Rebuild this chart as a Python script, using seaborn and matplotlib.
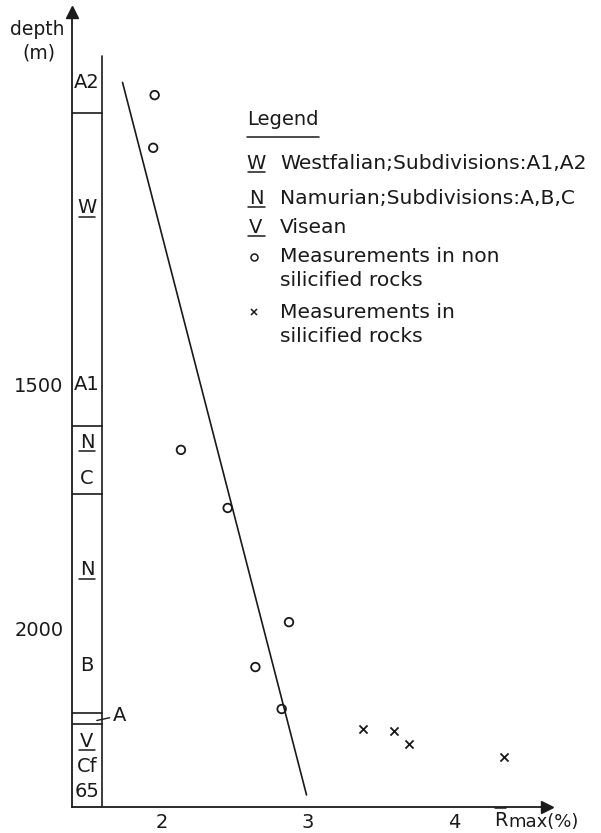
import matplotlib
matplotlib.use('Agg')
import matplotlib.pyplot as plt
import seaborn as sns

sns.set_theme(style='white')
plt.rcParams['font.family'] = ['DejaVu Sans']

# ---------------- data ----------------
# vitrinite reflectance (%) vs depth (m)
non_sil_r = [1.95, 1.94, 2.13, 2.45, 2.87, 2.64, 2.82]
non_sil_depth = [906, 1014, 1633, 1752, 1986, 2078, 2164]
sil_r = [3.38, 3.59, 3.69, 4.34]
sil_depth = [2205, 2209, 2236, 2262]

# trend line through the non silicified measurements
trend_r = [1.73, 2.99]
trend_depth = [880, 2340]

# stratigraphic column: top, then boundaries (m)
column_top = 826
column_bounds = [943, 1584, 1723, 2172, 2195]
column_labels = ['A2', 'W', 'A1', 'N', 'C', 'N', 'B', 'V', 'Cf', '65']
column_label_depth = [881, 1137, 1500, 1617, 1691, 1879, 2074, 2230, 2281, 2334]
column_underlined = ['W', 'N', 'V']

x_ticks = [2, 3, 4]
y_ticks = [1500, 2000]

legend_keys = ['W', 'N', 'V']
legend_text = ['Westfalian;Subdivisions:A1,A2',
               'Namurian;Subdivisions:A,B,C',
               'Visean']

# ---------------- figure ----------------
W_PX, H_PX = 601, 833
fig = plt.figure(figsize=(W_PX / 100, H_PX / 100), dpi=100)
ax = fig.add_axes([72 / W_PX, 26 / H_PX, 475 / W_PX, 795 / H_PX])
ink = '#1a1a1a'
fs = 14
lfs = 14.6

ax.set_xlim(1.384, 4.637)
ax.set_ylim(2364.8, 735.7)

for s in ['top', 'right']:
    ax.spines[s].set_visible(False)
for s in ['left', 'bottom']:
    ax.spines[s].set_color(ink)
    ax.spines[s].set_linewidth(1.3)

# arrow heads
ax.plot(1, 0, marker='>', ms=8, color=ink, transform=ax.transAxes, clip_on=False)
ax.plot(0, 1, marker='^', ms=8, color=ink, transform=ax.transAxes, clip_on=False)

ax.set_xticks(x_ticks)
ax.set_xticklabels([str(t) for t in x_ticks])
ax.set_yticks(y_ticks)
ax.set_yticklabels([str(t) for t in y_ticks])
ax.tick_params(axis='x', direction='inout', length=8, width=1.1, color=ink,
               labelsize=fs, labelcolor=ink, pad=0)
ax.tick_params(axis='y', direction='out', length=5, width=1.1, color=ink,
               labelsize=fs, labelcolor=ink, pad=1)
ax.grid(False)

# stratigraphic column
col_left, col_right = 1.384, 1.589
col_mid = (col_left + col_right) / 2
ax.plot([col_right, col_right], [column_top, ax.get_ylim()[0]], color=ink, lw=1.2)
for d in column_bounds:
    ax.plot([col_left, col_right], [d, d], color=ink, lw=1.2)
for lab, d in zip(column_labels, column_label_depth):
    ax.text(col_mid, d, lab, ha='center', va='center', fontsize=fs, color=ink)
    if lab in column_underlined:
        ax.plot([col_mid - 0.055, col_mid + 0.055], [d + 19, d + 19], color=ink, lw=1.1)

# label "A" with leader for the thin Namurian A layer
a_depth = (column_bounds[3] + column_bounds[4]) / 2
ax.annotate('A', xy=(col_right - 0.035, a_depth + 4), xytext=(col_right + 0.075, a_depth - 6),
            ha='left', va='center', fontsize=fs, color=ink,
            arrowprops=dict(arrowstyle='-', color=ink, lw=1.0, shrinkA=0, shrinkB=0))

# trend line
sns.lineplot(x=trend_r, y=trend_depth, ax=ax, color=ink, lw=1.2, sort=False)

# measurements
sns.scatterplot(x=non_sil_r, y=non_sil_depth, ax=ax, marker='o', s=38,
                facecolor='none', edgecolor=ink, linewidth=1.3)
sns.scatterplot(x=sil_r, y=sil_depth, ax=ax, marker='x', s=34,
                color=ink, linewidth=1.3)

# ---------------- overlay for annotations (pixel coords) ----------------
ov = fig.add_axes([0, 0, 1, 1])
ov.set_xlim(0, W_PX)
ov.set_ylim(H_PX, 0)
ov.axis('off')
ov.patch.set_alpha(0)

ov.text(37, 29, 'depth', ha='center', va='center', fontsize=13.5, color=ink)
ov.text(39, 53, '(m)', ha='center', va='center', fontsize=13.5, color=ink)

ov.text(247, 119, 'Legend', ha='left', va='center', fontsize=fs, color=ink)
ov.plot([247, 319], [137, 137], color=ink, lw=1.1)

rows_y = [163, 198, 227]
for key, txt, y in zip(legend_keys, legend_text, rows_y):
    ov.text(256, y, key, ha='center', va='center', fontsize=fs, color=ink)
    ov.plot([248, 265], [y + 9, y + 9], color=ink, lw=1.1)
    ov.text(280, y, txt, ha='left', va='center', fontsize=lfs, color=ink)

ov.plot(254, 257, marker='o', ms=5, mfc='none', mec=ink, mew=1.1)
ov.text(280, 257, 'Measurements in non', ha='left', va='center', fontsize=lfs, color=ink)
ov.text(280, 280, 'silicified rocks', ha='left', va='center', fontsize=lfs, color=ink)
ov.plot(254, 312, marker='x', ms=5, color=ink, mew=1.1)
ov.text(280, 312, 'Measurements in', ha='left', va='center', fontsize=lfs, color=ink)
ov.text(280, 336, 'silicified rocks', ha='left', va='center', fontsize=lfs, color=ink)

# axis label R max (%)
ov.text(494, 820, 'R', ha='left', va='center', fontsize=fs, color=ink)
ov.plot([495, 506], [808, 808], color=ink, lw=1.1)
ov.text(508, 822, 'max(%)', ha='left', va='center', fontsize=13, color=ink)

fig.savefig('out.png', dpi=100, facecolor='white')
